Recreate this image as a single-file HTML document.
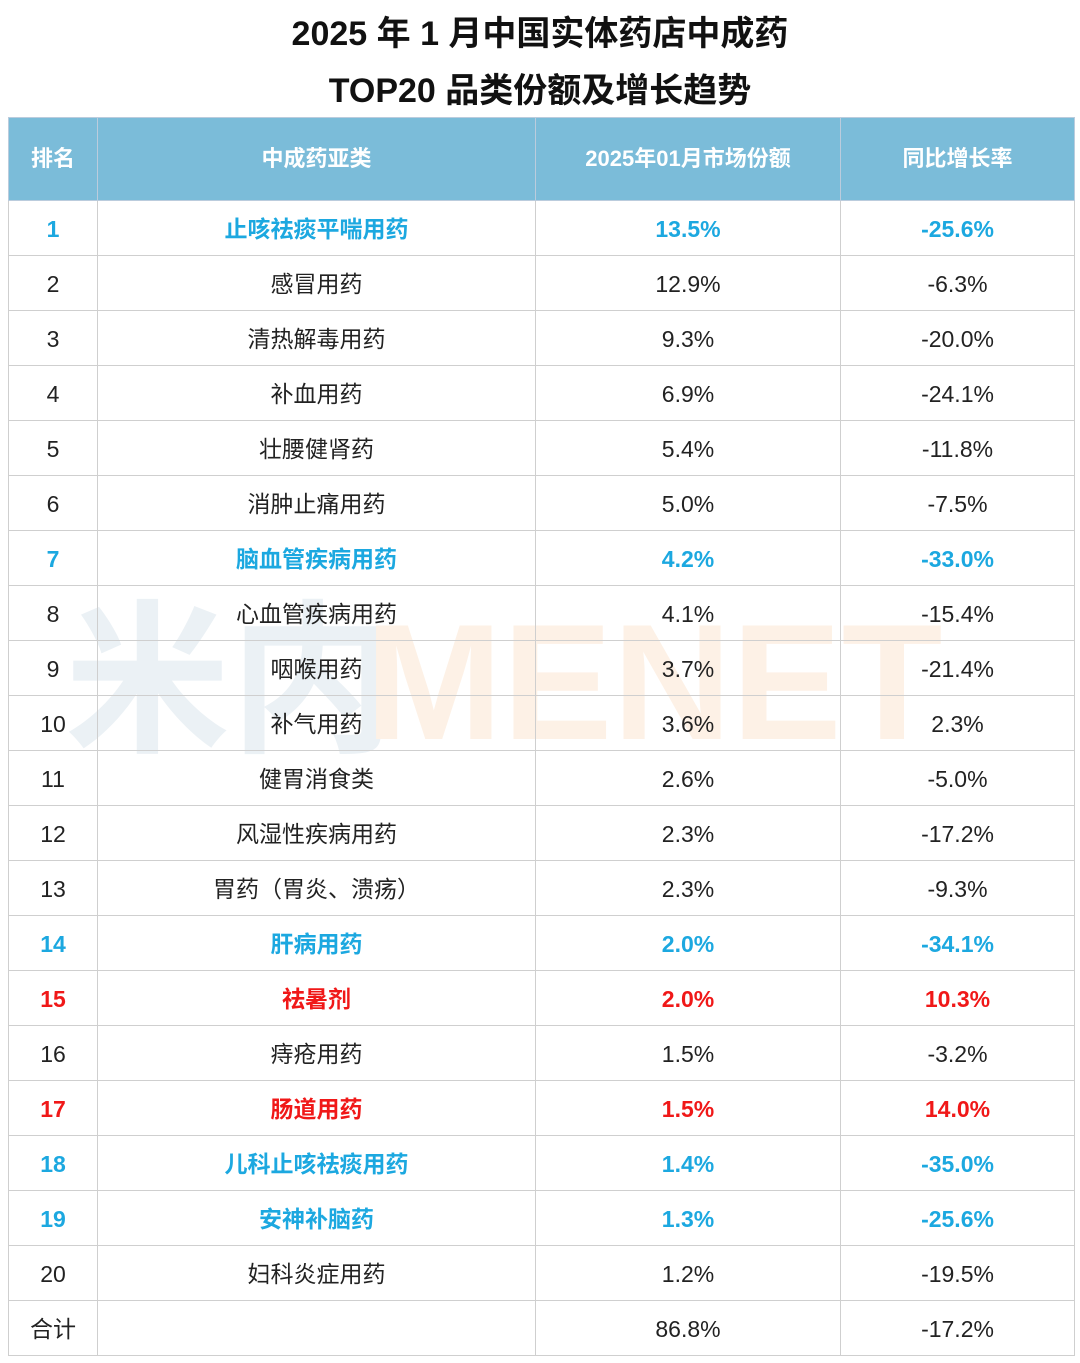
<!DOCTYPE html>
<html><head><meta charset="utf-8"><style>
body{margin:0;width:1080px;height:1363px;background:#fff;font-family:"Liberation Sans","Noto Sans CJK SC",sans-serif;position:relative;overflow:hidden}
.t{position:absolute;left:0;width:1080px;text-align:center;font-weight:bold;font-size:34px;color:#111}
table{position:absolute;left:8px;top:117px;border-collapse:collapse;table-layout:fixed;z-index:2}
td,th{border:1.5px solid #cfcfcf;text-align:center;font-size:23px;color:#222;padding:3px 0 0 0;line-height:1}
tr{height:55px}
tr.h{height:83px}
th{background:#7bbcd9;color:#fff;font-size:22px;font-weight:bold;border-color:#bcd;padding:0}
tr.b td{color:#1ca8e0;font-weight:bold}
tr.r td{color:#f01818;font-weight:bold}
.wm{position:absolute;top:600px;font-weight:bold;font-size:165px;z-index:1;line-height:1}
</style></head><body>
<div class="t" style="top:6px">2025 年 1 月中国实体药店中成药</div>
<div class="t" style="top:63px">TOP20 品类份额及增长趋势</div>
<div class="wm" style="left:65px;color:#ebf1f5">米内</div>
<div class="wm" style="left:365px;color:#fdf1e6;font-family:'Liberation Sans',sans-serif">MENET</div>
<table>
<colgroup><col style="width:89px"><col style="width:438px"><col style="width:305px"><col style="width:234px"></colgroup>
<tr class="h"><th>排名</th><th>中成药亚类</th><th>2025年01月市场份额</th><th>同比增长率</th></tr>
<tr class="b"><td>1</td><td>止咳祛痰平喘用药</td><td>13.5%</td><td>-25.6%</td></tr>
<tr><td>2</td><td>感冒用药</td><td>12.9%</td><td>-6.3%</td></tr>
<tr><td>3</td><td>清热解毒用药</td><td>9.3%</td><td>-20.0%</td></tr>
<tr><td>4</td><td>补血用药</td><td>6.9%</td><td>-24.1%</td></tr>
<tr><td>5</td><td>壮腰健肾药</td><td>5.4%</td><td>-11.8%</td></tr>
<tr><td>6</td><td>消肿止痛用药</td><td>5.0%</td><td>-7.5%</td></tr>
<tr class="b"><td>7</td><td>脑血管疾病用药</td><td>4.2%</td><td>-33.0%</td></tr>
<tr><td>8</td><td>心血管疾病用药</td><td>4.1%</td><td>-15.4%</td></tr>
<tr><td>9</td><td>咽喉用药</td><td>3.7%</td><td>-21.4%</td></tr>
<tr><td>10</td><td>补气用药</td><td>3.6%</td><td>2.3%</td></tr>
<tr><td>11</td><td>健胃消食类</td><td>2.6%</td><td>-5.0%</td></tr>
<tr><td>12</td><td>风湿性疾病用药</td><td>2.3%</td><td>-17.2%</td></tr>
<tr><td>13</td><td>胃药（胃炎、溃疡）</td><td>2.3%</td><td>-9.3%</td></tr>
<tr class="b"><td>14</td><td>肝病用药</td><td>2.0%</td><td>-34.1%</td></tr>
<tr class="r"><td>15</td><td>祛暑剂</td><td>2.0%</td><td>10.3%</td></tr>
<tr><td>16</td><td>痔疮用药</td><td>1.5%</td><td>-3.2%</td></tr>
<tr class="r"><td>17</td><td>肠道用药</td><td>1.5%</td><td>14.0%</td></tr>
<tr class="b"><td>18</td><td>儿科止咳祛痰用药</td><td>1.4%</td><td>-35.0%</td></tr>
<tr class="b"><td>19</td><td>安神补脑药</td><td>1.3%</td><td>-25.6%</td></tr>
<tr><td>20</td><td>妇科炎症用药</td><td>1.2%</td><td>-19.5%</td></tr>
<tr><td>合计</td><td></td><td>86.8%</td><td>-17.2%</td></tr>
</table>
</body></html>
